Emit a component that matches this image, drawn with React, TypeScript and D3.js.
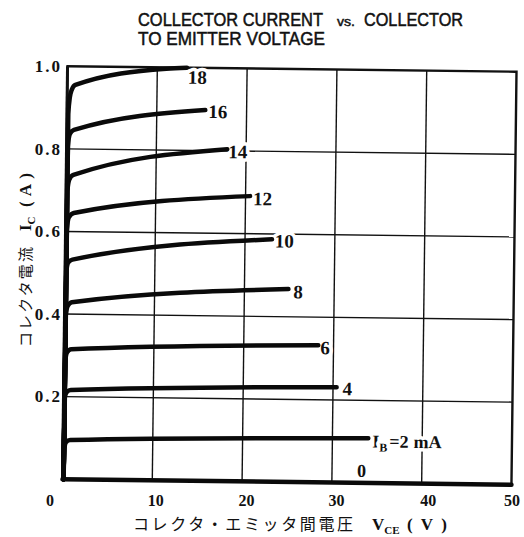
import React from "react";
import * as d3 from "d3";

// ---- data ----
const ibLabels = ["0", "2", "4", "6", "8", "10", "12", "14", "16", "18"];

const curveIb0: [number, number][] = [[0, 0], [50, 0]];
const curveIb2: [number, number][] = [[0.12, 0], [0.15, 0.072], [0.35, 0.09], [0.8, 0.095], [34.0, 0.108]];
const curveIb4: [number, number][] = [[0.12, 0], [0.15, 0.198], [0.35, 0.211], [0.8, 0.216], [30.4, 0.231]];
const curveIb6: [number, number][] = [[0.12, 0], [0.15, 0.288], [0.35, 0.308], [0.8, 0.315], [28.3, 0.332]];
const curveIb8: [number, number][] = [[0.12, 0], [0.15, 0.398], [0.35, 0.42], [0.8, 0.429], [24.9, 0.467]];
const curveIb10: [number, number][] = [[0.12, 0], [0.15, 0.505], [0.35, 0.525], [0.8, 0.532], [23.0, 0.587]];
const curveIb12: [number, number][] = [[0.12, 0], [0.15, 0.605], [0.35, 0.634], [0.9, 0.645], [20.5, 0.691]];
const curveIb14: [number, number][] = [[0.12, 0], [0.15, 0.698], [0.35, 0.726], [0.8, 0.737], [17.9, 0.804]];
const curveIb16: [number, number][] = [[0.12, 0], [0.15, 0.806], [0.35, 0.836], [0.8, 0.846], [15.4, 0.898]];
const curveIb18: [number, number][] = [[0.12, 0], [0.15, 0.885], [0.3, 0.925], [0.5, 0.943], [0.9, 0.955], [11, 0.997], [13.3, 1.0]];

const curves = [curveIb0, curveIb2, curveIb4, curveIb6, curveIb8, curveIb10, curveIb12, curveIb14, curveIb16, curveIb18];

const xTickValues = [0, 10, 20, 30, 40, 50];
const xTickLabels = ["0", "10", "20", "30", "40", "50"];
const yTickValues = [0.2, 0.4, 0.6, 0.8, 1.0];
const yTickLabels = ["0.2", "0.4", "0.6", "0.8", "1.0"];
const xGridValues = [10, 20, 30, 40];
const yGridValues = [0.2, 0.4, 0.6, 0.8];

// ---- layout ----
const W = 524;
const H = 537;
const X0 = 65, X1 = 514, Y0 = 482, Y1 = 69;
const ROT = 0.7;
// label offsets (px) relative to curve end, per curve index
const labelDx = [0, 4, 6, 2, 5, 3, 3, 1, 3, 1];
const labelDy = [0, 9, 8, 9, 9, 8, 9, 9, 8, 16];
const xTickDx = [-15, 1, 2, 2, 4, -2];

const serif = "'Liberation Serif', 'DejaVu Serif', serif";
const sans = "'Liberation Sans', Arimo, sans-serif";
const cjk = "'Noto Sans CJK JP', 'Noto Sans CJK SC', sans-serif";

export default function App() {
  const x = d3.scaleLinear().domain([0, 50]).range([X0, X1]);
  const y = d3.scaleLinear().domain([0, 1.0]).range([Y0, Y1]);
  const line = d3
    .line<[number, number]>()
    .x((d) => x(d[0]))
    .y((d) => y(d[1]))
    .curve(d3.curveMonotoneX);

  const halo = { stroke: "white", strokeWidth: 7, paintOrder: "stroke" as const, strokeLinejoin: "round" as const };
  const titleStroke = { stroke: "#111", strokeWidth: 0.45 };

  return (
    <svg
      width={W}
      height={H}
      style={{ position: "absolute", left: 0, top: 0, background: "white" }}
    >
      <rect x={0} y={0} width={W} height={H} fill="white" />
      {/* title */}
      <g fontFamily={sans} fill="#111">
        <text transform="translate(138,26) scale(1,1.12)" x={0} y={0} fontSize={16.4} textLength={185} lengthAdjust="spacingAndGlyphs" {...titleStroke}>
          COLLECTOR CURRENT
        </text>
        <text transform="translate(337,26) scale(1,1.05)" x={0} y={0} fontSize={12.5} textLength={18} lengthAdjust="spacingAndGlyphs" {...titleStroke}>
          vs.
        </text>
        <text transform="translate(364,26) scale(1,1.12)" x={0} y={0} fontSize={16.4} textLength={99} lengthAdjust="spacingAndGlyphs" {...titleStroke}>
          COLLECTOR
        </text>
        <text transform="translate(138,45) scale(1,1.12)" x={0} y={0} fontSize={16.4} textLength={187} lengthAdjust="spacingAndGlyphs" {...titleStroke}>
          TO EMITTER VOLTAGE
        </text>
      </g>

      {/* plot area (slightly rotated like the scanned original) */}
      <g transform={`rotate(${ROT}, 290, 275)`}>
        {/* grid */}
        {xGridValues.map((v) => (
          <line key={"gx" + v} x1={x(v)} x2={x(v)} y1={y(1)} y2={y(0)} stroke="#111" strokeWidth={1.4} />
        ))}
        {yGridValues.map((v) => (
          <line key={"gy" + v} x1={x(0)} x2={x(50)} y1={y(v)} y2={y(v)} stroke="#111" strokeWidth={1.4} />
        ))}
        {/* frame */}
        <rect x={x(0)} y={y(1)} width={x(50) - x(0)} height={y(0) - y(1)} fill="none" stroke="#111" strokeWidth={2.4} />
        <line x1={x(0)} x2={x(0)} y1={y(1)} y2={y(0)} stroke="#111" strokeWidth={3} />

        {/* curve labels (with white halo) */}
        {curves.map((c, i) => {
          if (i === 0) return null;
          const end = c[c.length - 1];
          const lx = x(end[0]) + labelDx[i];
          const ly = y(end[1]) + labelDy[i];
          if (i === 1) {
            return (
              <text key={"l" + i} x={lx} y={ly} fontFamily={serif} fontWeight="bold" fontSize={18} fill="#111" {...halo}>
                I
                <tspan fontSize={12} dy={4}>B</tspan>
                <tspan dy={-4} dx={2}>=2</tspan>
                <tspan dx={5}>mA</tspan>
              </text>
            );
          }
          return (
            <text key={"l" + i} x={lx} y={ly} fontFamily={serif} fontWeight="bold" fontSize={19} fill="#111" {...halo}>
              {ibLabels[i]}
            </text>
          );
        })}
        <text x={x(32.8)} y={y(0) - 6} fontFamily={serif} fontWeight="bold" fontSize={18} fill="#111" {...halo}>
          {ibLabels[0]}
        </text>

        {/* curves */}
        {curves.map((c, i) => (
          <path
            key={"c" + i}
            d={line(c) || ""}
            fill="none"
            stroke="#0a0a0a"
            strokeWidth={4.5}
            strokeLinecap="round"
            strokeLinejoin="round"
          />
        ))}
      </g>

      {/* y tick labels */}
      {yTickValues.map((v, i) => (
        <text
          key={"yt" + v}
          x={62}
          y={y(v) - 3 + 6}
          textAnchor="end"
          fontFamily={serif}
          fontWeight="bold"
          fontSize={17}
          letterSpacing={2}
          fill="#111"
        >
          {yTickLabels[i]}
        </text>
      ))}

      {/* x tick labels */}
      {xTickValues.map((v, i) => (
        <text
          key={"xt" + v}
          x={x(v) + xTickDx[i]}
          y={506}
          textAnchor="middle"
          fontFamily={serif}
          fontWeight="bold"
          fontSize={16}
          fill="#111"
        >
          {xTickLabels[i]}
        </text>
      ))}

      {/* x axis title */}
      <text x={133} y={530} fontFamily={cjk} fontSize={16} textLength={220} lengthAdjust="spacing" fill="#111">
        コレクタ・エミッタ間電圧
      </text>
      <text x={372} y={530} fontFamily={serif} fontWeight="bold" fontSize={17} fill="#111">
        V<tspan fontSize={11} dy={4}>CE</tspan>
      </text>
      <text x={407} y={530} fontFamily={serif} fontWeight="bold" fontSize={17} textLength={40} lengthAdjust="spacing" fill="#111">
        (V)
      </text>

      {/* y axis title (rotated) */}
      <g transform="rotate(-90)">
        <text x={-347} y={31} fontFamily={cjk} fontSize={15} textLength={100} lengthAdjust="spacing" fill="#111">
          コレクタ電流
        </text>
        <text x={-231} y={31} fontFamily={serif} fontWeight="bold" fontSize={17} fill="#111">
          I<tspan fontSize={11} dy={4}>C</tspan>
        </text>
        <text x={-207} y={31} fontFamily={serif} fontWeight="bold" fontSize={17} textLength={34} lengthAdjust="spacing" fill="#111">
          (A)
        </text>
      </g>
    </svg>
  );
}
